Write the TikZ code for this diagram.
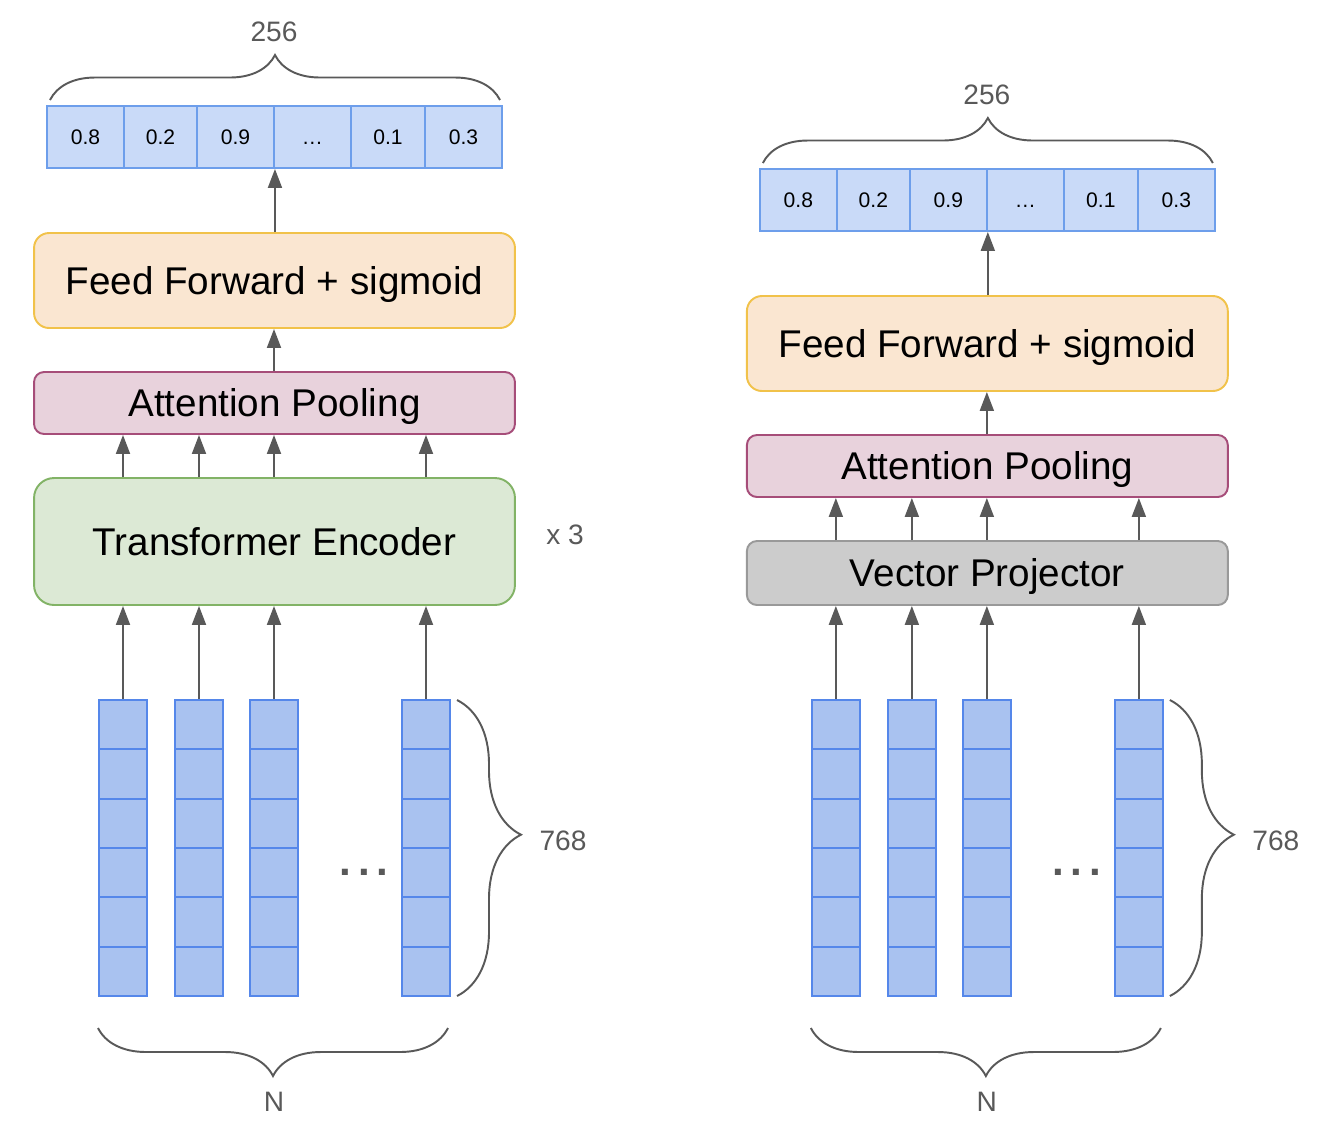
\documentclass[tikz,border=0pt]{standalone}
\usepackage{fontspec}
\setmainfont{Liberation Sans}
\usetikzlibrary{arrows.meta,decorations.pathreplacing}
\definecolor{arrgray}{HTML}{595959}
\definecolor{vecfill}{HTML}{C9DAF8}
\definecolor{vecdraw}{HTML}{6D9EEB}
\definecolor{tokfill}{HTML}{A9C2F0}
\definecolor{tokdraw}{HTML}{5587EA}
\definecolor{fffill}{HTML}{FAE6D1}
\definecolor{ffdraw}{HTML}{F1C24A}
\definecolor{apfill}{HTML}{E8D2DC}
\definecolor{apdraw}{HTML}{A64D79}
\definecolor{tefill}{HTML}{DCE9D5}
\definecolor{tedraw}{HTML}{82B366}
\definecolor{vpfill}{HTML}{CCCCCC}
\definecolor{vpdraw}{HTML}{999999}

\begin{document}
\begin{tikzpicture}[x=0.02cm,y=-0.02cm,
    arr/.style={draw=arrgray, line width=1.1pt, -{Triangle[length=0.38cm,width=0.28cm]}},
    brc/.style={draw=arrgray, line width=1.1pt, decorate},
    cell/.style={draw=vecdraw, fill=vecfill, line width=1.1pt, minimum height=1.24cm,
        inner sep=0pt, text height=8.6pt, text depth=0pt, font=\fontsize{12}{14}\selectfont},
    tok/.style={draw=tokdraw, fill=tokfill, line width=1.3pt, minimum width=0.96cm,
        minimum height=0.987cm, inner sep=0pt},
    block/.style={line width=1.1pt, minimum width=9.62cm, inner sep=0pt,
        text height=15.8pt, text depth=0pt, font=\fontsize{22}{26}\selectfont},
    lbl/.style={text=arrgray, font=\fontsize{16}{19}\selectfont},
    dots/.style={text=arrgray, font=\fontsize{24}{24}\selectfont\bfseries}]
    \useasboundingbox (0,0) rectangle (1328,1134);

    % left: transformer encoder
    \foreach \a/\b/\v [count=\i] in {47/124/0.8,124/197/0.2,197/274/0.9,274/351/…,351/425/0.1,425/502/0.3}
        \node[cell, minimum width={(\b-\a)*0.02cm}] (lo\i) at ({(\a+\b)/2},137) {\v};
    \draw[brc, decoration={brace,amplitude=0.9cm}] (50,100) -- (500,100);
    \node[lbl] (lwidth) at (274,32) {256};
    \node[block, draw=ffdraw, fill=fffill, minimum height=1.9cm, rounded corners=0.3cm] (lff) at (274.5,280.5) {Feed Forward + sigmoid};
    \node[block, draw=apdraw, fill=apfill, minimum height=1.24cm, rounded corners=0.2cm] (lap) at (274.5,403) {Attention Pooling};
    \node[block, draw=tedraw, fill=tefill, minimum height=2.54cm, rounded corners=0.4cm] (lte) at (274.5,541.5) {Transformer Encoder};
    \node[lbl] (lrep) at (565,535) {x 3};
    \foreach \x [count=\k] in {123,199,274,426}
        \foreach \j in {1,...,6}
            \node[tok] (lt\k-\j) at (\x,{700+49.33*(\j-0.5)}) {};
    \node[dots] (ldots) at (364,872) {.\hspace{4pt}.\hspace{4pt}.};
    \foreach \k in {1,...,4} {
        \draw[arr] (lt\k-1.north) -- (lt\k-1.north |- lte.south);
        \draw[arr] (lt\k-1.north |- lte.north) -- (lt\k-1.north |- lap.south);
    }
    \draw[arr] (lt3-1.north |- lap.north) -- (lt3-1.north |- lff.south);
    \draw[arr] (lo3.south east |- lff.north) -- (lo3.south east);
    \draw[brc, decoration={brace,amplitude=1.28cm,aspect=0.455}] (457,700) -- (457,996);
    \node[lbl] (ldim) at (563,841) {768};
    \draw[brc, decoration={brace,amplitude=0.96cm}] (448,1028) -- (98,1028);
    \node[lbl] (ln) at (274,1102) {N};

    % right: vector projector
    \begin{scope}[xshift=14.26cm]
        \foreach \a/\b/\v [count=\i] in {47/124/0.8,124/197/0.2,197/274/0.9,274/351/…,351/425/0.1,425/502/0.3}
            \node[cell, minimum width={(\b-\a)*0.02cm}] (ro\i) at ({(\a+\b)/2},200) {\v};
        \draw[brc, decoration={brace,amplitude=0.9cm}] (50,163) -- (500,163);
        \node[lbl] (rwidth) at (274,95) {256};
        \node[block, draw=ffdraw, fill=fffill, minimum height=1.9cm, rounded corners=0.3cm] (rff) at (274.5,343.5) {Feed Forward + sigmoid};
        \node[block, draw=apdraw, fill=apfill, minimum height=1.24cm, rounded corners=0.2cm] (rap) at (274.5,466) {Attention Pooling};
        \node[block, draw=vpdraw, fill=vpfill, minimum height=1.28cm, rounded corners=0.2cm] (rvp) at (274.5,573) {Vector Projector};
        \foreach \x [count=\k] in {123,199,274,426}
            \foreach \j in {1,...,6}
                \node[tok] (rt\k-\j) at (\x,{700+49.33*(\j-0.5)}) {};
        \node[dots] (rdots) at (364,872) {.\hspace{4pt}.\hspace{4pt}.};
        \foreach \k in {1,...,4} {
            \draw[arr] (rt\k-1.north) -- (rt\k-1.north |- rvp.south);
            \draw[arr] (rt\k-1.north |- rvp.north) -- (rt\k-1.north |- rap.south);
        }
        \draw[arr] (rt3-1.north |- rap.north) -- (rt3-1.north |- rff.south);
        \draw[arr] (ro3.south east |- rff.north) -- (ro3.south east);
        \draw[brc, decoration={brace,amplitude=1.28cm,aspect=0.455}] (457,700) -- (457,996);
        \node[lbl] (rdim) at (563,841) {768};
        \draw[brc, decoration={brace,amplitude=0.96cm}] (448,1028) -- (98,1028);
        \node[lbl] (rn) at (274,1102) {N};
    \end{scope}
\end{tikzpicture}
\end{document}
